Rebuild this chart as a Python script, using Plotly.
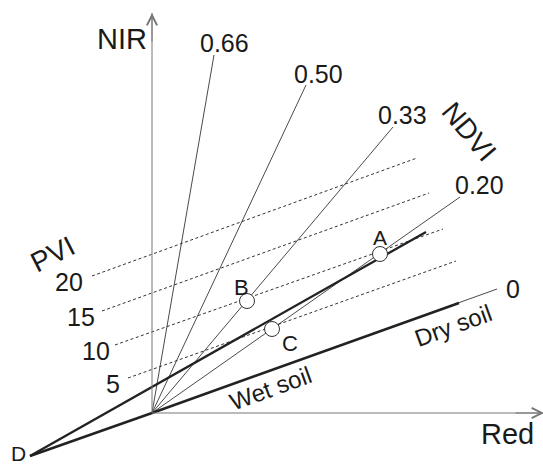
import plotly.graph_objects as go

# ---- data (Red, NIR) in arbitrary reflectance units ----
ndvi_labels = ["0.66", "0.50", "0.33", "0.20", "0"]
ndvi_end_red = [6.2, 15.4, 24.1, 30.8, 34.5]
ndvi_end_nir = [35.8, 32.8, 28.6, 21.6, 12.4]
ndvi_lab_red = [7.2, 16.6, 25.0, 32.7, 36.1]
ndvi_lab_nir = [37.05, 33.9, 29.85, 22.8, 12.45]

pvi_labels = ["20", "15", "10", "5"]
pvi_start_red = [-6.0, -5.0, -3.7, -2.4]
pvi_start_nir = [13.7, 10.2, 6.8, 3.5]
pvi_end_red = [26.5, 27.7, 29.1, 30.4]
pvi_end_nir = [25.5, 22.0, 18.4, 15.2]
pvi_lab_red = [-6.7, -5.5, -4.0, -3.0]

soil_red = [-12.2, 0.0, 30.7]      # D -> origin -> dry soil end
soil_nir = [-4.3, 0.0, 11.0]
dline_red = [-12.2, 27.4]          # D -> beyond A
dline_nir = [-4.3, 18.1]

pt_names = ["A", "B", "C"]
pt_red = [22.8, 9.5, 12.0]
pt_nir = [15.9, 11.2, 8.4]
pt_lab_red = [22.8, 8.9, 13.8]
pt_lab_nir = [17.6, 12.6, 7.0]
pt_lab_size = [21, 22, 22]
d_label = (-13.4, -4.0)

axis_red_max = 39.2
axis_nir_max = 40.0

FONT = "Liberation Sans, Arial, Helvetica, sans-serif"
TXT = "#1a1a1a"

fig = go.Figure()

# NDVI isolines from the origin
for r, n in zip(ndvi_end_red, ndvi_end_nir):
    fig.add_trace(go.Scatter(x=[0, r], y=[0, n], mode="lines",
                             line=dict(color="#4a4a4a", width=1), hoverinfo="skip"))

# PVI isolines (dashed, parallel to soil line)
for x0, y0, x1, y1 in zip(pvi_start_red, pvi_start_nir, pvi_end_red, pvi_end_nir):
    fig.add_trace(go.Scatter(x=[x0, x1], y=[y0, y1], mode="lines",
                             line=dict(color="#333333", width=1, dash="3px,2.5px"),
                             hoverinfo="skip"))

# Soil line (thick) and D line (thick)
fig.add_trace(go.Scatter(x=soil_red, y=soil_nir, mode="lines",
                         line=dict(color="#222222", width=2.6), hoverinfo="skip"))
fig.add_trace(go.Scatter(x=dline_red, y=dline_nir, mode="lines",
                         line=dict(color="#222222", width=2.3), hoverinfo="skip"))

# Axes
fig.add_trace(go.Scatter(x=[0, axis_red_max], y=[0, 0], mode="lines",
                         line=dict(color="#777777", width=1), hoverinfo="skip"))
fig.add_trace(go.Scatter(x=[0, 0], y=[0, axis_nir_max], mode="lines",
                         line=dict(color="#777777", width=1), hoverinfo="skip"))

# Points A, B, C
fig.add_trace(go.Scatter(x=pt_red, y=pt_nir, mode="markers",
                         marker=dict(symbol="circle", size=15, color="white",
                                     line=dict(color="#333333", width=1)),
                         hoverinfo="skip"))

ann = []
# arrowheads for axes
ann.append(dict(x=axis_red_max, y=0, ax=axis_red_max - 3, ay=0, xref="x", yref="y",
                axref="x", ayref="y", showarrow=True, arrowhead=5, arrowsize=2,
                arrowwidth=1, arrowcolor="#777777", text=""))
ann.append(dict(x=0, y=axis_nir_max, ax=0, ay=axis_nir_max - 3, xref="x", yref="y",
                axref="x", ayref="y", showarrow=True, arrowhead=5, arrowsize=2,
                arrowwidth=1, arrowcolor="#777777", text=""))

def txt(t, x, y, size, angle=0, xanchor="center"):
    ann.append(dict(x=x, y=y, text=t, showarrow=False, xref="x", yref="y",
                    xanchor=xanchor, yanchor="middle", textangle=angle,
                    font=dict(family=FONT, size=size, color=TXT)))

txt("NIR", -3.0, 37.4, 29)
txt("Red", 35.5, -2.05, 29)
for lab, x, y in zip(ndvi_labels, ndvi_lab_red, ndvi_lab_nir):
    txt(lab, x, y, 25)
txt("NDVI", 31.7, 28.2, 28, angle=50)
txt("PVI", -10.0, 15.9, 28, angle=-27)
for lab, x, y in zip(pvi_labels, pvi_lab_red, pvi_start_nir):
    txt(lab, x, y - 0.55, 25, xanchor="right")
for lab, x, y, s in zip(pt_names, pt_lab_red, pt_lab_nir, pt_lab_size):
    txt(lab, x, y, s)
txt("D", d_label[0], d_label[1], 21)
txt("Wet soil", 11.8, 2.5, 24, angle=-20)
txt("Dry soil", 30.1, 8.8, 24, angle=-20)

fig.update_layout(
    width=543, height=467,
    margin=dict(l=0, r=0, t=0, b=0),
    paper_bgcolor="white", plot_bgcolor="white",
    showlegend=False,
    xaxis=dict(range=[-15.2, 39.1], visible=False, fixedrange=True),
    yaxis=dict(range=[-5.4, 41.3], visible=False, fixedrange=True),
    annotations=ann,
)

fig.write_html("out.html", config={"displayModeBar": False},
               post_script="document.body.style.margin='0px';document.body.style.overflow='hidden';")
